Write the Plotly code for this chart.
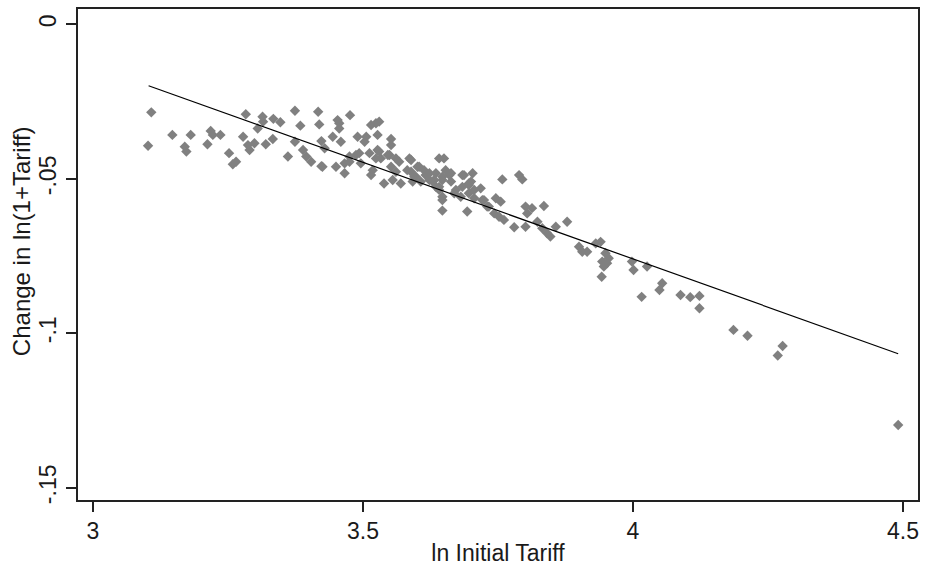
import plotly.graph_objects as go

# ---- data ----
tariff_x = [
    3.108, 3.102, 3.147, 3.181, 3.170, 3.173, 3.212, 3.218, 3.222, 3.236,
    3.252, 3.259, 3.265, 3.278, 3.283, 3.287, 3.290, 3.299, 3.305, 3.314,
    3.315, 3.320, 3.334, 3.333, 3.347, 3.361, 3.374, 3.374, 3.384, 3.389,
    3.395, 3.404, 3.417, 3.419, 3.423, 3.423, 3.429,
    3.476, 3.453, 3.456, 3.444, 3.459, 3.425, 3.450, 3.466, 3.475, 3.490,
    3.503, 3.506, 3.515, 3.530, 3.527, 3.552, 3.552, 3.493, 3.512, 3.515,
    3.527, 3.533, 3.539, 3.549, 3.561, 3.567, 3.561, 3.570, 3.586, 3.589,
    3.595, 3.604, 3.607, 3.592, 3.616, 3.629, 3.641, 3.650, 3.653, 3.647,
    3.663, 3.687, 3.703, 3.700, 3.706, 3.672, 3.641,
    3.623, 3.632, 3.663, 3.696, 3.647, 3.647, 3.681, 3.693, 3.718, 3.706,
    3.724, 3.733, 3.746, 3.755, 3.758, 3.789, 3.795, 3.743, 3.752, 3.761,
    3.780, 3.801, 3.804, 3.813, 3.835, 3.801, 3.823, 3.832, 3.841, 3.857,
    3.878, 3.847,
    3.900, 3.906, 3.915, 3.931, 3.940, 3.949, 3.943, 3.952, 3.955, 3.946,
    3.942, 3.998, 4.001, 4.026, 4.016, 4.054, 4.049, 4.088, 4.106, 4.123,
    4.123, 4.186, 4.212, 4.277, 4.268, 4.491,
    3.456, 3.524, 3.487, 3.530, 3.524, 3.546, 3.552, 3.518, 3.555, 3.589,
    3.582, 3.601, 3.598, 3.613, 3.623, 3.635, 3.635, 3.496, 3.475, 3.466,
    3.647, 3.660, 3.641, 3.647, 3.684, 3.696, 3.684, 3.696, 3.669, 3.721,
    3.730,
]
tariff_change = [
    -0.0285, -0.0393, -0.0358, -0.0358, -0.0396, -0.0412, -0.0388, -0.0345, -0.0358, -0.0358,
    -0.0417, -0.0453, -0.0445, -0.0364, -0.0291, -0.0391, -0.0407, -0.0385, -0.0337, -0.0299,
    -0.0315, -0.0388, -0.0306, -0.0371, -0.0317, -0.0428, -0.0280, -0.0380, -0.0328, -0.0407,
    -0.0428, -0.0445, -0.0283, -0.0324, -0.0378, -0.0459, -0.0401,
    -0.0294, -0.0310, -0.0337, -0.0364, -0.0380, -0.0461, -0.0461, -0.0482, -0.0445, -0.0364,
    -0.0380, -0.0364, -0.0326, -0.0315, -0.0358, -0.0371, -0.0391, -0.0417, -0.0417, -0.0488,
    -0.0407, -0.0434, -0.0515, -0.0423, -0.0434, -0.0445, -0.0477, -0.0515, -0.0434, -0.0477,
    -0.0493, -0.0461, -0.0509, -0.0509, -0.0488, -0.0509, -0.0434, -0.0434, -0.0472, -0.0504,
    -0.0509, -0.0488, -0.0482, -0.0509, -0.0536, -0.0536, -0.0536,
    -0.0482, -0.0504, -0.0482, -0.0520, -0.0558, -0.0603, -0.0558, -0.0606, -0.0531, -0.0563,
    -0.0569, -0.0590, -0.0563, -0.0574, -0.0502, -0.0488, -0.0502, -0.0612, -0.0623, -0.0633,
    -0.0657, -0.0590, -0.0612, -0.0595, -0.0588, -0.0655, -0.0639, -0.0660, -0.0676, -0.0655,
    -0.0639, -0.0687,
    -0.0720, -0.0736, -0.0736, -0.0709, -0.0704, -0.0741, -0.0768, -0.0773, -0.0757, -0.0784,
    -0.0817, -0.0768, -0.0795, -0.0784, -0.0882, -0.0838, -0.0860, -0.0876, -0.0883, -0.0879,
    -0.0919, -0.0989, -0.1008, -0.1041, -0.1072, -0.1297,
    -0.0320, -0.0320, -0.0423, -0.0412, -0.0434, -0.0423, -0.0461, -0.0472, -0.0504, -0.0439,
    -0.0472, -0.0461, -0.0493, -0.0472, -0.0504, -0.0482, -0.0526, -0.0450, -0.0428, -0.0450,
    -0.0493, -0.0488, -0.0526, -0.0569, -0.0488, -0.0515, -0.0526, -0.0547, -0.0547, -0.0569,
    -0.0590,
]

fit_x = [3.103, 4.491]
fit_y = [-0.0199, -0.1066]

x_tick_vals = [3, 3.5, 4, 4.5]
x_tick_text = ["3", "3.5", "4", "4.5"]
y_tick_vals = [0, -0.05, -0.10, -0.15]
y_tick_text = ["0", "-.05", "-.1", "-.15"]

x_title = "ln Initial Tariff"
y_title = "Change in ln(1+Tariff)"

FONT = "Liberation Sans, Arial, sans-serif"
TXT = "#1a1a1a"

fig = go.Figure()
fig.add_trace(go.Scatter(
    x=tariff_x, y=tariff_change, mode="markers",
    marker=dict(symbol="diamond", size=8, color="#808080", line=dict(width=0)),
    showlegend=False, hoverinfo="x+y",
))
fig.add_trace(go.Scatter(
    x=fit_x, y=fit_y, mode="lines",
    line=dict(color="black", width=1.2),
    showlegend=False,
))

axis_common = dict(
    showline=True, mirror=True, linecolor="#222222", linewidth=1.5,
    showgrid=False, zeroline=False,
    ticks="outside", ticklen=10, tickwidth=1.5, tickcolor="#222222",
    tickfont=dict(family=FONT, size=23, color=TXT),
)

fig.update_layout(
    width=925, height=568,
    margin=dict(l=78, r=5, t=9, b=68),
    paper_bgcolor="white", plot_bgcolor="white",
    font=dict(family=FONT, size=23, color=TXT),
    xaxis=dict(
        range=[2.9723, 4.5277],
        tickmode="array", tickvals=x_tick_vals, ticktext=x_tick_text,
        title=dict(text=x_title, font=dict(family=FONT, size=23, color=TXT), standoff=2),
        **axis_common,
    ),
    yaxis=dict(
        range=[-0.15395, 0.00495],
        tickmode="array", tickvals=y_tick_vals, ticktext=y_tick_text,
        tickangle=-90, ticklabelstandoff=1,
        **axis_common,
    ),
    annotations=[dict(
        text=y_title, textangle=-90, showarrow=False,
        xref="paper", yref="paper", x=-0.0665, y=0.5275,
        xanchor="center", yanchor="middle",
        font=dict(family=FONT, size=24, color=TXT),
    )],
)

fig.write_html(
    "out.html",
    config={"displayModeBar": False},
    post_script="document.body.style.margin='0';",
)
